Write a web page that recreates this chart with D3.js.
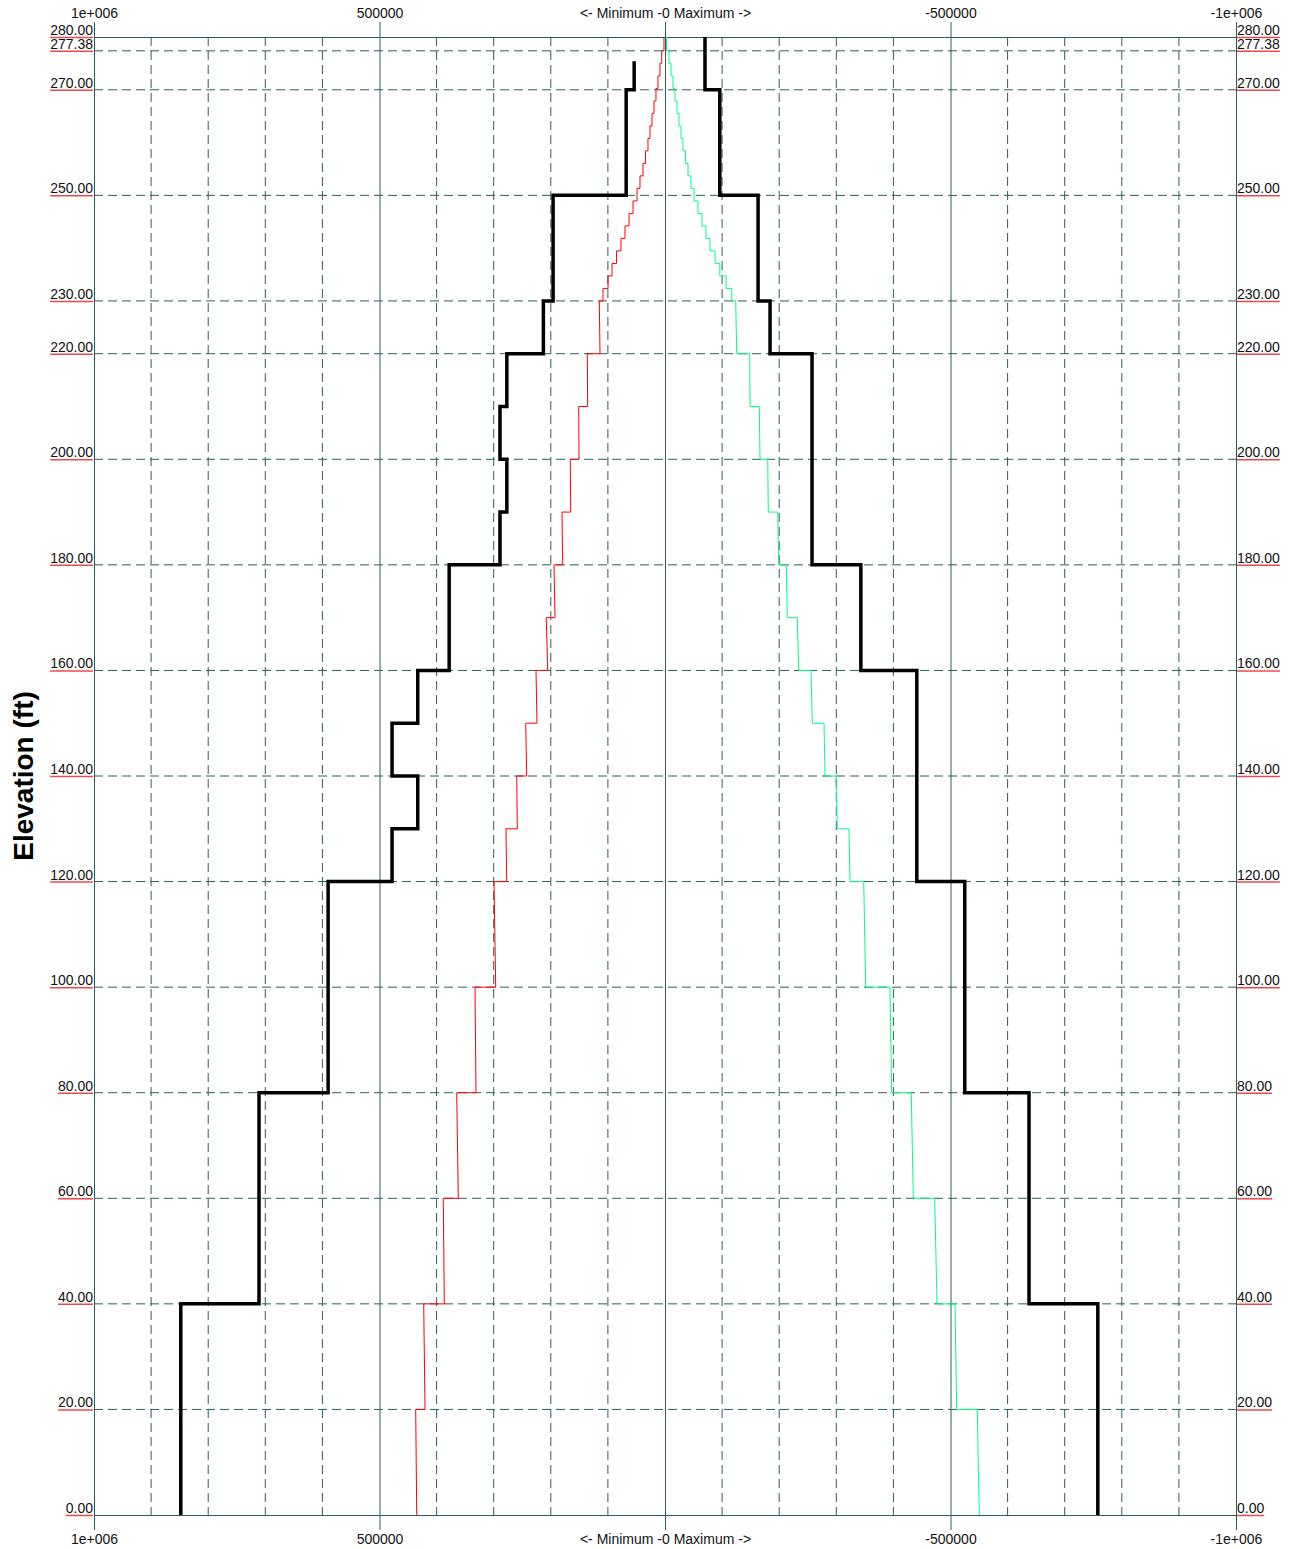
<!DOCTYPE html>
<html>
<head>
<meta charset="utf-8">
<script src="https://cdn.jsdelivr.net/npm/d3@7"></script>
<style>
  body { margin: 0; background: #fff; }
  text { font-family: Arial, "Liberation Sans", sans-serif; }
</style>
</head>
<body>
<div id="chart"></div>
<script>
// x ticks (left is positive / maximum side)
const xTickValues = [1e6, 5e5, 0, -5e5, -1e6];
const xTickLabels = ["1e+006", "500000", "<- Minimum -0 Maximum ->", "-500000", "-1e+006"];
const xGridValues = [9e5, 8e5, 7e5, 6e5, 4e5, 3e5, 2e5, 1e5, -1e5, -2e5, -3e5, -4e5, -6e5, -7e5, -8e5, -9e5];

// elevation ticks
const yTickValues = [0, 20, 40, 60, 80, 100, 120, 140, 160, 180, 200, 220, 230, 250, 270, 277.38, 280];

// thick black envelope, left (maximum) side: band edges and value per band (thousands)
const blackMaxElev = [0, 40, 80, 120, 130, 140, 150, 160, 180, 190, 200, 210, 220, 230, 250, 270, 275.4];
const blackMaxVal = [848, 711, 590, 478, 433, 478, 433, 378, 289, 277, 289, 277, 213, 196, 68, 54];

// thick black envelope, right (minimum) side
const blackMinElev = [0, 40, 80, 120, 160, 180, 220, 230, 250, 270, 280];
const blackMinVal = [-758, -637.5, -525, -441, -343, -257.5, -184, -163, -96, -70];

// red / green curves: band edges, value at bottom and top of each band (thousands)
const curveElev = [0, 20, 40, 60, 80, 100, 120, 130, 140, 150, 160, 170, 180, 190, 200, 210, 220, 230,
  232.37, 234.74, 237.11, 239.48, 241.85, 244.21, 246.58, 248.95, 251.32, 253.69, 256.06, 258.43,
  260.79, 263.16, 265.53, 267.90, 270.27, 272.64, 275.01, 277.38, 280];
const redBottom = [434.8, 420.3, 386.5, 362.0, 331.0, 296.5, 277.2, 258.7, 242.2, 224.2, 205.4, 192.6,
  179.2, 165.1, 150.6, 135.4, 113.8,
  108.6, 99.8, 92.8, 84.9, 77.1, 70.1, 63.0, 56.0, 49.0, 43.8, 38.5, 34.1, 29.8, 26.3, 22.8, 19.3,
  15.8, 12.3, 8.8, 5.8, 1.8];
const redTop = [436.6, 422.6, 388.3, 364.8, 332.7, 299.5, 278.5, 259.7, 244.0, 225.9, 207.9, 194.4,
  180.4, 165.8, 151.1, 136.1, 115.1,
  108.6, 99.8, 92.8, 84.9, 77.1, 70.1, 63.0, 56.0, 49.0, 43.8, 38.5, 34.1, 29.8, 26.3, 22.8, 19.3,
  15.8, 12.3, 8.8, 5.8, 1.8];
const greenBottom = [-550.4, -510.8, -476.4, -434.8, -397.0, -351.5, -324.0, -301.7, -280.2, -258.0,
  -234.1, -214.2, -199.1, -180.9, -166.4, -148.9, -125.6,
  -117, -107, -96, -87.6, -78.8, -71.8, -64.8, -57.8, -50.8, -45.5, -40.3, -35.9, -31.5, -28, -24.5,
  -21, -17.5, -14, -10.5, -7, -2.6];
const greenTop = [-546.9, -507.9, -472.3, -431.3, -394.0, -348.0, -322.2, -299.5, -278.5, -255.7,
  -231.7, -212.4, -197.4, -179.9, -165.1, -148.3, -123.8,
  -117, -107, -96, -87.6, -78.8, -71.8, -64.8, -57.8, -50.8, -45.5, -40.3, -35.9, -31.5, -28, -24.5,
  -21, -17.5, -14, -10.5, -7, -2.6];

const W = 1292, H = 1549;
const plotL = 94, plotR = 1236, plotT = 37, plotB = 1515;
const gridColor = "#2c5c5c";

const svg = d3.select("#chart").append("svg")
  .attr("width", W).attr("height", H);

const x = d3.scaleLinear().domain([1e6, -1e6]).range([plotL, plotR]);
const y = d3.scaleLinear().domain([0, 280]).range([plotB, plotT]);

// vertical dashed grid
svg.append("g").selectAll("line").data(xGridValues).enter().append("line")
  .attr("x1", d => x(d)).attr("x2", d => x(d))
  .attr("y1", plotT).attr("y2", plotB)
  .attr("stroke", gridColor).attr("stroke-width", 1)
  .attr("stroke-dasharray", "9,5");

// horizontal dashed grid
svg.append("g").selectAll("line").data(yTickValues.filter(d => d > 0 && d < 280)).enter().append("line")
  .attr("x1", plotL).attr("x2", plotR)
  .attr("y1", d => y(d)).attr("y2", d => y(d))
  .attr("stroke", gridColor).attr("stroke-width", 1)
  .attr("stroke-dasharray", "9,5");

// top and bottom axes with labels
const axTop = svg.append("g").attr("transform", `translate(0,${plotT})`)
  .call(d3.axisTop(x).tickValues(xTickValues).tickFormat((d, i) => xTickLabels[i]).tickSize(15).tickPadding(4));
const axBot = svg.append("g").attr("transform", `translate(0,${plotB})`)
  .call(d3.axisBottom(x).tickValues(xTickValues).tickFormat((d, i) => xTickLabels[i]).tickSize(15).tickPadding(4));
[axTop, axBot].forEach(g => {
  g.select(".domain").attr("stroke", gridColor);
  g.selectAll(".tick line").attr("stroke", gridColor).attr("stroke-width", 1);
  g.selectAll(".tick text").attr("fill", "#111").style("font-size", "14px")
    .style("font-family", "Arial, 'Liberation Sans', sans-serif");
});
// solid main verticals run the full height
axTop.selectAll(".tick line").clone()
  .attr("y1", 0).attr("y2", plotB - plotT);

// elevation labels both sides, with red underline
function elevLabels(side) {
  const g = svg.append("g");
  const lab = g.selectAll("g").data(yTickValues).enter().append("g")
    .attr("transform", d => `translate(${side === "left" ? plotL - 1 : plotR + 1},${y(d)})`);
  lab.append("text")
    .attr("y", -2)
    .attr("text-anchor", side === "left" ? "end" : "start")
    .attr("fill", "#111")
    .style("font-size", "14px")
    .text(d => d.toFixed(2));
  lab.each(function () {
    const t = d3.select(this).select("text");
    const w = t.node().getComputedTextLength();
    d3.select(this).append("line")
      .attr("x1", side === "left" ? -w : 0).attr("x2", side === "left" ? 0 : w)
      .attr("y1", 0.5).attr("y2", 0.5)
      .attr("stroke", "#f04848").attr("stroke-width", 1.5);
  });
}
elevLabels("left");
elevLabels("right");

// y axis title
svg.append("text")
  .attr("transform", "translate(33,776) rotate(-90)")
  .attr("text-anchor", "middle")
  .style("font-size", "28px")
  .style("font-weight", "bold")
  .attr("fill", "#000")
  .text("Elevation (ft)");

const line = d3.line().x(d => x(d[1])).y(d => y(d[0]));

// step series built from bands
function bandPoints(elev, vals) {
  const pts = [];
  vals.forEach((v, i) => { pts.push([elev[i], v * 1000]); pts.push([elev[i + 1], v * 1000]); });
  return pts;
}
function slopedPoints(elev, bot, topv) {
  const pts = [];
  bot.forEach((v, i) => { pts.push([elev[i], v * 1000]); pts.push([elev[i + 1], topv[i] * 1000]); });
  return pts;
}

svg.append("path").datum(slopedPoints(curveElev, redBottom, redTop))
  .attr("fill", "none").attr("stroke", "#ff0000").attr("stroke-width", 1)
  .attr("d", line);
svg.append("path").datum(slopedPoints(curveElev, greenBottom, greenTop))
  .attr("fill", "none").attr("stroke", "#00ff80").attr("stroke-width", 1)
  .attr("d", line);

svg.append("path").datum(bandPoints(blackMaxElev, blackMaxVal))
  .attr("fill", "none").attr("stroke", "#000").attr("stroke-width", 3.5)
  .attr("d", line);
svg.append("path").datum(bandPoints(blackMinElev, blackMinVal))
  .attr("fill", "none").attr("stroke", "#000").attr("stroke-width", 3.5)
  .attr("d", line);
</script>
</body>
</html>
